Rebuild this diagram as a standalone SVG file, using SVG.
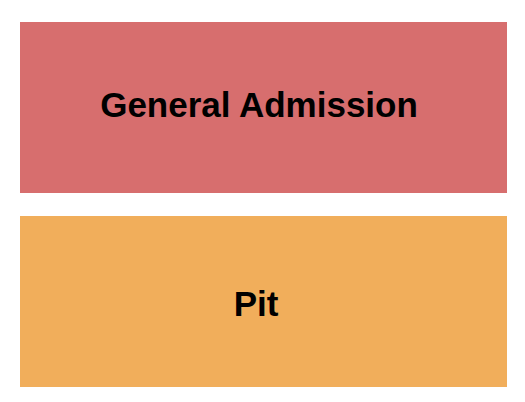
<svg xmlns="http://www.w3.org/2000/svg" width="525" height="402" viewBox="0 0 525 402">
<style>
.lbl{font-family:"Liberation Sans",Arial,sans-serif;font-weight:bold;font-size:35px;fill:#000;text-anchor:middle}
</style>
<rect width="525" height="402" fill="#fff"/>
<g id="general-admission">
<rect x="20" y="22" width="487" height="171" fill="#D76E6E"/>
<text class="lbl" x="259" y="117">General Admission</text>
</g>
<g id="pit">
<rect x="20" y="216" width="487" height="171" fill="#F1AE5B"/>
<text class="lbl" x="256" y="316">Pit</text>
</g>
<g id="connectors"/>
</svg>
